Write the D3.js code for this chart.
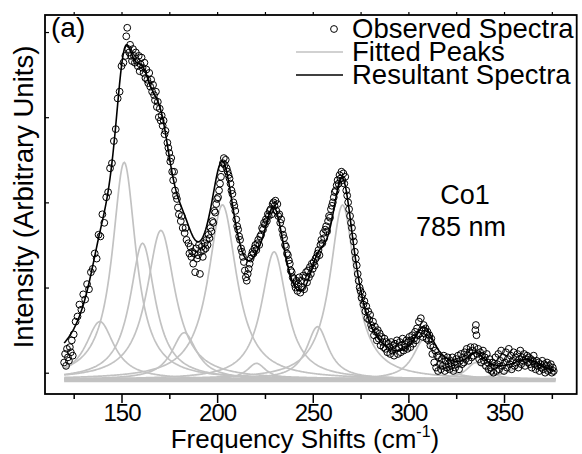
<!DOCTYPE html>
<html><head><meta charset="utf-8">
<script src="https://cdn.jsdelivr.net/npm/d3@7"></script>
<style>body{margin:0;background:#fff}svg{display:block}text{font-family:"Liberation Sans",Arial,sans-serif;fill:#000}</style>
</head><body><svg id="c" width="582" height="454"></svg>
<script>
// ---- data ----
const xDomain = [110, 388];
const yDomain = [-25, 420];
const majorTicks = [150, 200, 250, 300, 350];
const minorTicks = [125, 175, 225, 275, 325, 375];
const yTicks = [0, 100, 200, 300, 400];
const baseline = -8;
const fitRange = [120, 377];
// fitted Lorentzian peaks: centre (cm-1), amplitude (a.u.), half width (cm-1)
const peakCentres = [138.7, 151.4, 161.0, 170.6, 182.8, 202.8, 220.6, 229.8, 252.5, 265.6, 308.2, 335.4, 362.0];
const peakHeights = [68, 255, 160, 175, 55, 205, 19, 150, 62, 205, 47, 20, 18];
const peakWidths  = [9, 7.5, 8, 9, 8, 9, 6, 8, 7, 8, 7, 6, 10];
// observed spectrum [shift, intensity]
const observed = [
[120,12],[120.5,22],[121,8],[121.5,28],[122,18],[122.5,14],[123,30],[123.5,24],[124,38],[124.5,20],[125,45],[126,60],[127,66],[128,80],[129,74],[130,92],[131,86],[132,104],[133,98],[134,118],[135,122],[136,140],[137,134],[138,162],[139,160],[140,186],[141,176],[142,206],[143,212],[144,240],[145,246],[146,272],[147,286],[148,322],[149,330],[150,360],[151,364],[152,372],[152.5,395],[153,405],[153.5,380],
[154,376],[154.5,385],[155,372],[155.5,366],[156,380],[156.5,372],[157,364],[157.5,376],[158,366],[158.5,360],[159,372],[159.5,354],[160,362],[160.5,370],[161,358],[161.5,352],[162,364],[162.5,346],[163,356],[163.5,344],[164,340],[164.5,352],[165,336],[165.5,344],[166,330],[166.5,338],[167,326],[167.5,320],[168,330],[168.5,312],[169,318],[169.5,300],[170,310],[170.5,296],[171,302],[171.5,290],[172,296],[172.5,280],[173,284],[174,270],[174.5,264],[175,258],[175.5,248],[176,252],[176.5,236],[177,226],[177.5,236],[178,214],[178.5,208],[179,204],[179.5,194],[180,186],[181,178],[181.5,184],[182,170],[183,164],[183.5,170],[184,156],[185,152],[185.5,140],[186,148],[186.5,136],[187,142],[187.5,128],[188,140],[188.5,118],[189,146],[189.5,134],[190,138],[190.5,150],[191,116],[191.5,142],[192,148],[192.5,136],[193,144],[193.5,152],[194,146],[194.5,156],[195,150],[195.5,162],[196,158],[196.5,170],[197,166],[197.5,178],[198,176],[198.5,190],[199,188],[199.5,198],[200,204],[200.5,206],[201,214],[201.5,222],[202,230],[202.5,240],[203,246],[203.5,252],[204,244],[204.5,250],[205,240],[205.5,236],[206,232],[206.5,228],[207,222],[207.5,214],[208,210],[208.5,200],[209,196],[209.5,190],[210,180],[210.5,172],[211,168],[211.5,160],[212,156],[212.5,146],[213,142],[213.5,136],[214,130],[214.5,120],[215,112],[215.5,108],[216,116],[216.5,122],[217,128],[217.5,134],[218,138],[218.5,142],[219,140],[219.5,146],[220,150],[220.5,144],[221,152],[221.5,156],[222,150],[222.5,160],[223,162],[223.5,170],[224,168],[224.5,176],[225,174],[225.5,180],[226,178],[226.5,186],[227,184],[227.5,190],[228,192],[228.5,186],[229,198],[229.5,200],[230,196],[230.5,202],[231,190],[231.5,198],[232,184],[232.5,186],[233,176],[233.5,180],[234,168],[234.5,162],[235,158],[235.5,150],[236,148],[236.5,140],[237,138],[237.5,132],[238,128],[238.5,120],[239,118],[239.5,112],[240,110],[240.5,104],[241,100],[241.5,108],[242,96],[242.5,104],[243,112],[243.5,94],[244,108],[244.5,100],[245,114],[245.5,98],[246,112],[246.5,118],[247,106],[247.5,120],[248,112],[248.5,124],[249,116],[249.5,128],[250,122],[250.5,130],[251,126],[251.5,134],[252,136],[252.5,140],[253,144],[253.5,138],[254,150],[254.5,156],[255,152],[255.5,164],[256,158],[256.5,168],[257,172],[257.5,166],[258,178],[258.5,184],[259,182],[259.5,192],[260,196],[260.5,200],[261,206],[261.5,212],[262,214],[262.5,220],[263,226],[263.5,222],[264,232],[264.5,228],[265,236],[265.5,226],[266,234],[266.5,222],[267,230],[267.5,214],[268,208],[268.5,200],[269,192],[269.5,184],[270,176],[270.5,170],[271,160],[271.5,154],[272,142],[272.5,134],[273,126],[273.5,116],[274,108],[274.5,100],[275,96],[275.5,88],[276,92],[276.5,80],[277,84],[277.5,72],[278,78],[278.5,64],[279,72],[279.5,62],[280,68],[280.5,56],[281,52],[281.5,60],[282,44],[282.5,54],[283,48],[283.5,38],[284,50],[284.5,40],[285,46],[285.5,32],[286,42],[286.5,36],[287,30],[287.5,40],[288,28],[288.5,36],[289,24],[289.5,34],[290,30],[290.5,22],[291,36],[291.5,26],[292,32],[292.5,20],[293,34],[293.5,28],[294,38],[294.5,22],[295,30],[295.5,36],[296,24],[296.5,32],[297,40],[297.5,26],[298,34],[298.5,30],[299,38],[299.5,28],[300,36],[300.5,42],[301,30],[301.5,38],[302,44],[302.5,34],[303,40],[303.5,48],[304,38],[304.5,52],[305,44],[305.5,60],[306,46],[306.5,64],[307,50],[307.5,42],[308,56],[308.5,46],[309,52],[309.5,40],[310,48],[310.5,38],[311,44],[311.5,32],[312,40],[312.5,22],[313,30],[313.5,12],[314,26],[314.5,6],[315,20],[315.5,2],[316,18],[316.5,10],[317,4],[317.5,16],[318,8],[318.5,20],[319,2],[319.5,14],[320,6],[320.5,18],[321,10],[321.5,4],[322,14],[322.5,8],[323,18],[323.5,2],[324,12],[324.5,6],[325,16],[325.5,10],[326,20],[326.5,4],[327,14],[327.5,22],[328,10],[328.5,18],[329,12],[329.5,24],[330,16],[330.5,28],[331,20],[331.5,14],[332,24],[332.5,30],[333,18],[333.5,26],[334,20],[334.5,30],[335,50],[335.3,56],[335.6,44],[336,22],[336.5,28],[337,16],[337.5,24],[338,12],[338.5,20],[339,26],[339.5,14],[340,18],[340.5,8],[341,22],[341.5,12],[342,4],[342.5,16],[343,6],[343.5,2],[344,12],[344.5,0],[345,8],[345.5,18],[346,2],[346.5,10],[347,22],[347.5,4],[348,14],[348.5,26],[349,8],[349.5,18],[350,2],[350.5,12],[351,24],[351.5,6],[352,16],[352.5,28],[353,10],[353.5,20],[354,4],[354.5,14],[355,24],[355.5,8],[356,18],[356.5,12],[357,22],[357.5,6],[358,16],[358.5,26],[359,10],[359.5,18],[360,14],[360.5,22],[361,8],[361.5,16],[362,20],[362.5,12],[363,18],[363.5,10],[364,16],[364.5,6],[365,14],[365.5,20],[366,10],[366.5,4],[367,14],[367.5,8],[368,12],[368.5,2],[369,10],[369.5,6],[370,14],[370.5,4],[371,10],[371.5,0],[372,8],[372.5,12],[373,2],[373.5,8],[374,4],[374.5,10],[375,0],[375.5,6],[376,2]
];
const legendLabels = ["Observed Spectra", "Fitted Peaks", "Resultant Spectra"];
const annotation = ["Co1", "785 nm"];

// ---- chart ----
const L = 45, R = 576.7, T = 15, B = 394;
const svg = d3.select("#c");
const x = d3.scaleLinear().domain(xDomain).range([L, R]);
const y = d3.scaleLinear().domain(yDomain).range([B, T]);

svg.append("defs").append("clipPath").attr("id","clip")
  .append("rect").attr("x",L).attr("y",T).attr("width",R-L).attr("height",B-T);

const lor = (xv, i) => peakHeights[i] / (1 + Math.pow((xv - peakCentres[i]) / peakWidths[i], 2));
const grid = d3.range(fitRange[0], fitRange[1] + 0.001, 0.5);
const line = d3.line().x(d => x(d[0])).y(d => y(d[1]));
const GRAY = "#c2c2c2";

const plot = svg.append("g").attr("clip-path","url(#clip)");
plot.append("line").attr("x1",x(fitRange[0])).attr("x2",x(fitRange[1]))
  .attr("y1",y(baseline)+1).attr("y2",y(baseline)+1)
  .attr("stroke",GRAY).attr("stroke-width",3.5);
peakCentres.forEach((c,i) => {
  plot.append("path").datum(grid.map(g => [g, baseline + lor(g,i)]))
    .attr("d", line).attr("fill","none").attr("stroke",GRAY).attr("stroke-width",1.7);
});
plot.selectAll("circle.obs").data(observed).join("circle").attr("class","obs")
  .attr("cx", d => x(d[0])).attr("cy", d => y(d[1])).attr("r",3.4)
  .attr("fill","none").attr("stroke","#000").attr("stroke-width",1);
const resultant = grid.map(g => [g, baseline + d3.sum(peakCentres, (c,i) => lor(g,i))]);
plot.append("path").datum(resultant).attr("d", line)
  .attr("fill","none").attr("stroke","#000").attr("stroke-width",1.6);

// frame
svg.append("rect").attr("x",L).attr("y",T).attr("width",R-L).attr("height",B-T)
  .attr("fill","none").attr("stroke","#000").attr("stroke-width",1.8);

// bottom axis
const xAxis = d3.axisBottom(x).tickValues(majorTicks).tickSize(9).tickPadding(1).tickFormat(d3.format("d"));
const gx = svg.append("g").attr("transform",`translate(0,${B})`).call(xAxis);
gx.select(".domain").remove();
gx.selectAll("line").attr("stroke","#000").attr("stroke-width",1.5);
gx.selectAll("text").attr("font-size",24).attr("dy","0.72em").attr("font-family","Liberation Sans, Arial, sans-serif").attr("letter-spacing","-1");
const gxm = svg.append("g").attr("transform",`translate(0,${B})`)
  .call(d3.axisBottom(x).tickValues(minorTicks).tickSize(5).tickFormat(""));
gxm.select(".domain").remove();
gxm.selectAll("line").attr("stroke","#000").attr("stroke-width",1.5);
// top axis ticks
const gt = svg.append("g").attr("transform",`translate(0,${T})`)
  .call(d3.axisTop(x).tickValues(majorTicks.concat(minorTicks)).tickSize(3).tickFormat(""));
gt.select(".domain").remove();
gt.selectAll("line").attr("stroke","#000").attr("stroke-width",1.2);
// left axis ticks (inward)
const gy = svg.append("g").attr("transform",`translate(${L},0)`)
  .call(d3.axisRight(y).tickValues(yTicks).tickSize(4).tickFormat(""));
gy.select(".domain").remove();
gy.selectAll("line").attr("stroke","#000").attr("stroke-width",1.2);

// titles
const xt = svg.append("text").attr("x",305).attr("y",448).attr("text-anchor","middle").attr("font-size",26);
xt.append("tspan").text("Frequency Shifts (cm");
xt.append("tspan").attr("font-size",16).attr("dy",-11).text("-1");
xt.append("tspan").attr("dy",11).text(")");
svg.append("text").attr("transform","translate(33,197) rotate(-90)").attr("text-anchor","middle")
  .attr("font-size",27.5).text("Intensity (Arbitrary Units)");
svg.append("text").attr("x",51).attr("y",37).attr("font-size",28).text("(a)");

// annotation
svg.append("text").attr("x",465).attr("y",204).attr("text-anchor","middle").attr("font-size",27).text(annotation[0]);
svg.append("text").attr("x",461).attr("y",236).attr("text-anchor","middle").attr("font-size",27).text(annotation[1]);

// legend
const lg = svg.append("g");
const rows = [38, 61, 84];
lg.append("circle").attr("cx",334).attr("cy",rows[0]-9).attr("r",3.4).attr("fill","none").attr("stroke","#000").attr("stroke-width",1);
lg.append("line").attr("x1",296).attr("x2",343).attr("y1",rows[1]-9).attr("y2",rows[1]-9).attr("stroke",GRAY).attr("stroke-width",1.7);
lg.append("line").attr("x1",296).attr("x2",343).attr("y1",rows[2]-9).attr("y2",rows[2]-9).attr("stroke","#000").attr("stroke-width",1.6);
legendLabels.forEach((t,i) => lg.append("text").attr("x",352).attr("y",rows[i]).attr("font-size",27.5).text(t));
</script></body></html>
